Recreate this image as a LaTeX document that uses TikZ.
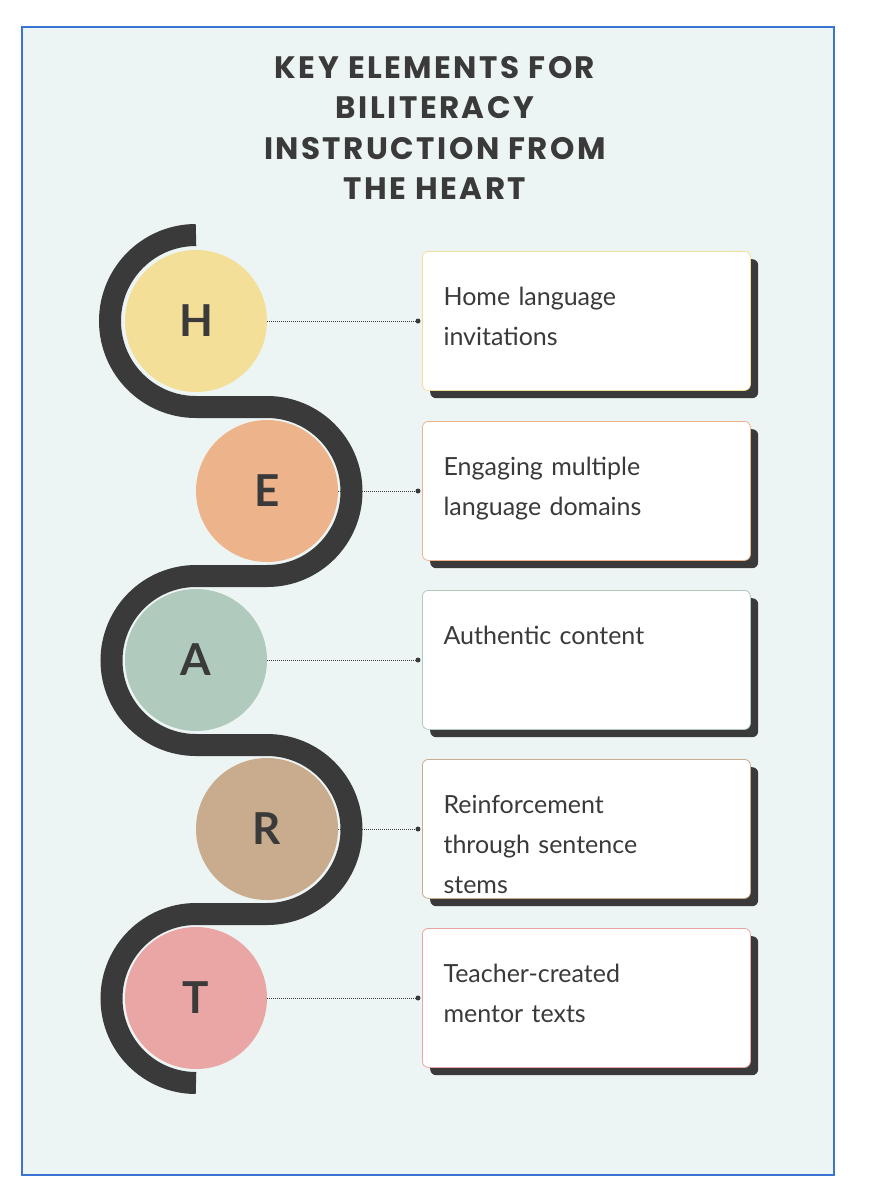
\documentclass[tikz,border=0pt]{standalone}
\usepackage{fontspec}
\setmainfont{Lato}
\newfontfamily\titlefont[LetterSpace=8]{Poppins Bold}
\definecolor{bg}{HTML}{EDF5F4}
\definecolor{frame}{HTML}{3B73D4}
\definecolor{ink}{HTML}{3A3A3A}
\definecolor{cH}{HTML}{F4DF98}
\definecolor{cE}{HTML}{EDB48C}
\definecolor{cA}{HTML}{B1CABE}
\definecolor{cR}{HTML}{C9AB8D}
\definecolor{cT}{HTML}{EAA6A4}
\tikzset{
 letter/.style={circle,minimum size=142pt,inner sep=0,font=\fontsize{44}{44}\selectfont\bfseries,text=ink},
 card/.style={draw=#1,line width=0.8pt,fill=white,rounded corners=6pt,minimum width=328pt,minimum height=139pt,anchor=north west},
 shadow/.style={fill=ink,rounded corners=6pt,minimum width=328pt,minimum height=139pt,anchor=north west},
 lbl/.style={anchor=north west,align=left,text width=300pt,font=\fontsize{25}{40}\selectfont,text=ink},
 conn/.style={densely dotted,line width=1pt,ink},
 dot/.style={circle,fill=ink,inner sep=0,minimum size=5pt}
}
\begin{document}
\begin{tikzpicture}[x=1pt,y=-1pt]
\useasboundingbox (0,0) rectangle (874,1200);
\fill[white] (0,0) rectangle (874,1200);
\draw[frame,line width=2.5pt,fill=bg] (22,27) rectangle (834,1175);
\node[font=\titlefont\fontsize{31}{40.5}\selectfont,text=ink,align=center] (title) at (435,128)
 {KEY ELEMENTS FOR\\BILITERACY\\INSTRUCTION FROM\\THE HEART};
% snake
\draw[ink,line width=22pt] (196,235)
 arc[start angle=-90,end angle=-270,radius=86]
 -- (267,407) arc[start angle=-90,end angle=90,radius=84.5]
 -- (196,576) arc[start angle=-90,end angle=-270,radius=84.5]
 -- (267,745) arc[start angle=-90,end angle=90,radius=84.5]
 -- (196,914) arc[start angle=-90,end angle=-270,radius=84.5];
\foreach \n/\l/\c/\x/\y/\t in {h/H/cH/196/321/{Home language\\invitations},
 e/E/cE/267/491/{Engaging multiple\\language domains},
 a/A/cA/196/660/{Authentic content},
 r/R/cR/267/829/{Reinforcement\\through sentence\\stems},
 t/T/cT/196/998/{Teacher-created\\mentor texts}}{
 \node[letter,fill=\c] (\n) at (\x,\y) {\l};
 \node[shadow] (\n s) at (430,\y-62) {};
 \node[card=\c] (\n b) at (422,\y-70) {};
 \node[lbl] (\n t) at ([xshift=18pt,yshift=-33pt]\n b.north west) {\t};
 \node[dot] (\n d) at (418,\y) {};
 \draw[conn] (\n.east) -- (\n d);
}
\end{tikzpicture}
\end{document}
